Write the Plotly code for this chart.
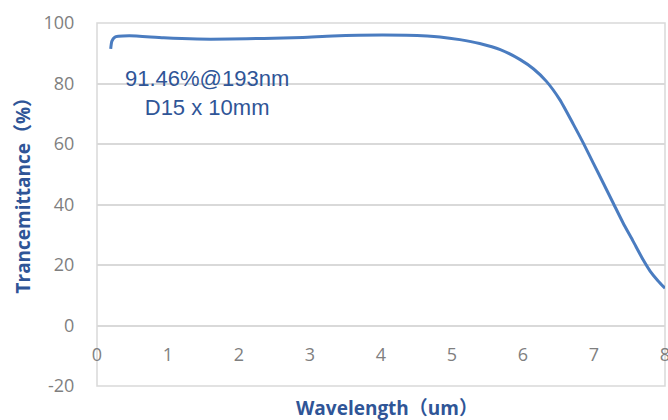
import plotly.graph_objects as go

wavelength_um = [0.193, 0.21, 0.25, 0.30, 0.46, 0.94, 1.41, 1.87, 2.35, 2.90, 3.32, 4.03,
                 4.65, 4.83, 5.11, 5.39, 5.68, 5.96, 6.15, 6.33, 6.52, 6.71, 6.85, 6.99,
                 7.13, 7.27, 7.41, 7.55, 7.69, 7.79, 7.90, 8.00]
transmittance = [91.46, 94.0, 95.3, 95.6, 95.8, 95.1, 94.7, 94.7, 94.9, 95.2, 95.7, 96.0,
                 95.7, 95.4, 94.5, 93.2, 91.2, 87.9, 84.8, 80.7, 74.6, 66.5, 60.3, 53.7,
                 47.1, 40.5, 33.9, 27.9, 21.8, 18.0, 14.8, 12.3]
x_ticks = [0, 1, 2, 3, 4, 5, 6, 7, 8]
y_ticks = [-20, 0, 20, 40, 60, 80, 100]
note_lines = ["91.46%@193nm", "D15 x 10mm"]
x_title = "Wavelength（um）"
y_title = "Trancemittance（%）"

blue_line = "#4a7cc0"
title_blue = "#2f5597"
grid = "#d9d9d9"
tick_gray = "#7f7f7f"

fig = go.Figure()
fig.add_trace(go.Scatter(x=wavelength_um, y=transmittance, mode="lines",
                         line=dict(color=blue_line, width=3, shape="spline", smoothing=0.6),
                         showlegend=False, hoverinfo="skip"))

fig.update_layout(
    width=668, height=420,
    margin=dict(l=97, r=3, t=23, b=34, autoexpand=False),
    paper_bgcolor="white", plot_bgcolor="white",
    xaxis=dict(range=[0, 8], tickvals=x_ticks, ticktext=[str(v) for v in x_ticks],
               anchor="free", position=1/6, showgrid=False, zeroline=False,
               showline=False, ticks="outside", ticklen=13, tickcolor="rgba(0,0,0,0)",
               tickfont=dict(family="Open Sans, sans-serif", size=18, color=tick_gray),
               ticklabeloverflow="allow", automargin=False),
    yaxis=dict(range=[-20, 100], tickvals=y_ticks, ticktext=[str(v) for v in y_ticks],
               showgrid=True, gridcolor=grid, gridwidth=1.5, zeroline=False,
               showline=False, ticks="outside", ticklen=18, tickcolor="rgba(0,0,0,0)",
               tickfont=dict(family="Open Sans, sans-serif", size=18, color=tick_gray),
               automargin=False),
    shapes=[dict(type="rect", xref="paper", yref="paper", x0=0, x1=1, y0=0, y1=1,
                 line=dict(color=grid, width=1.5), layer="below")],
)

fig.add_annotation(x=1.55, y=76.7, xref="x", yref="y",
                   text="<br>".join(note_lines), showarrow=False, align="center",
                   font=dict(family="Liberation Sans, Arial, sans-serif", size=22, color=title_blue))

fig.add_annotation(x=0.5, y=0, xref="paper", yref="paper", xshift=6, yshift=-22,
                   yanchor="middle", text="<b>" + x_title + "</b>", showarrow=False,
                   font=dict(family="Open Sans, Noto Sans CJK SC, sans-serif", size=19, color=title_blue))

fig.add_annotation(x=0, y=0.5, xref="paper", yref="paper", xshift=-75, yshift=14,
                   text="<b>" + y_title + "</b>", textangle=-90, showarrow=False,
                   xanchor="center", yanchor="middle",
                   font=dict(family="Open Sans, Noto Sans CJK SC, sans-serif", size=19, color=title_blue))

fig.write_html("out.html", config={"displayModeBar": False},
               post_script="document.body.style.margin='0';")
